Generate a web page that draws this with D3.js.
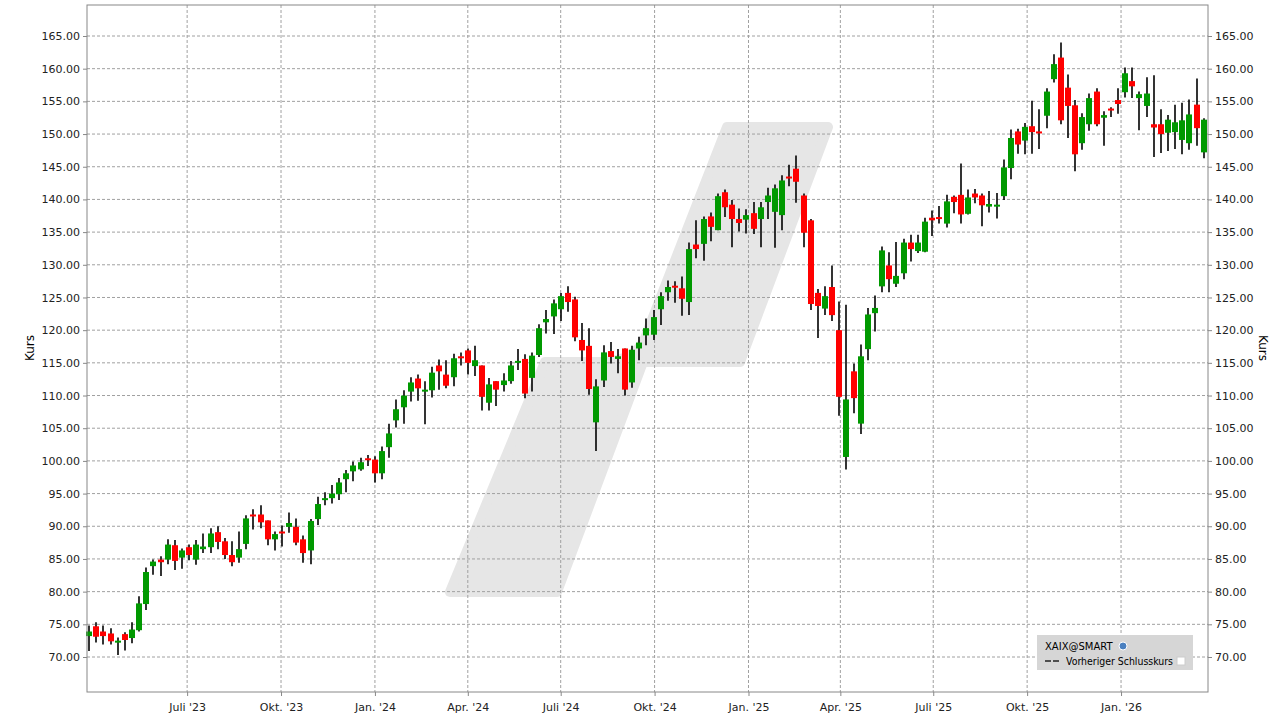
<!DOCTYPE html>
<html><head><meta charset="utf-8">
<script src="https://cdn.jsdelivr.net/npm/d3@7"></script>
<style>body{margin:0;background:#fff}svg{display:block;font-family:"DejaVu Sans",sans-serif}</style>
</head><body><svg id="c" width="1280" height="719"></svg>
<script>
const startDate = "2023-03-27";
const opens  = [73.2,74.7,73.9,73.6,72.2,73.5,72.9,74.1,78.1,83.9,84.9,84.9,87.1,85.2,86.8,84.9,86.5,86.8,89.1,87.7,85.6,85.2,87.3,91.8,91.8,90.9,88.0,89.2,89.9,89.9,88.0,86.3,91.1,94.0,94.3,94.9,97.2,98.4,98.7,100.4,100.2,98.1,102.1,106.2,108.2,110.6,112.6,110.6,110.8,114.6,113.2,112.8,116.0,116.9,114.5,114.6,108.9,112.2,111.6,112.2,115.0,115.6,112.7,116.2,121.2,122.1,123.2,125.7,124.7,118.5,117.6,105.9,112.3,116.8,115.6,117.2,112.0,117.2,119.2,119.3,123.2,125.8,126.8,126.4,124.3,133.1,133.2,137.4,135.3,141.1,139.2,137.0,136.9,137.9,137.0,139.6,138.1,137.6,143.5,144.7,140.6,136.8,125.7,123.3,126.6,120.0,100.6,113.7,105.7,117.1,122.6,126.7,129.9,127.1,128.7,133.4,132.1,132.0,137.2,137.3,136.3,140.4,140.7,137.8,140.9,140.6,138.9,138.9,140.5,144.8,150.4,149.0,151.2,150.4,152.8,158.4,161.7,157.1,154.4,148.6,151.5,156.5,152.5,153.9,155.2,156.4,158.1,155.5,154.3,151.5,151.5,150.2,150.3,149.1,148.6,154.5,147.2];
const highs  = [74.8,75.3,74.8,74.4,73.0,73.8,75.3,79.3,83.7,84.9,85.4,88.0,87.9,86.6,87.2,87.9,88.9,89.7,90.0,88.2,87.7,89.2,91.7,92.6,93.2,90.9,89.2,90.1,92.1,91.2,88.6,91.1,94.5,95.2,96.3,97.4,98.6,99.9,100.5,100.9,100.7,102.2,105.7,109.4,110.8,112.8,113.2,112.2,114.4,115.5,115.4,116.4,116.6,117.2,117.6,114.6,112.7,112.2,113.4,115.3,117.1,116.3,116.6,120.9,123.1,124.7,125.7,126.7,125.1,121.1,120.3,112.5,117.7,118.2,117.1,117.2,117.6,119.0,121.8,123.1,125.8,127.6,127.5,128.2,133.4,136.8,137.4,138.0,140.9,141.5,139.9,138.6,138.5,139.6,139.6,141.8,142.3,143.7,145.3,146.7,140.9,137.0,126.3,126.7,129.9,124.4,123.9,114.9,117.8,123.4,125.3,132.8,131.9,133.5,134.0,134.6,134.6,137.2,138.3,139.0,140.7,140.6,145.5,141.5,141.6,140.9,141.3,141.0,146.1,150.7,150.8,151.7,155.1,153.8,157.0,162.2,164.0,159.1,155.2,153.2,156.2,157.0,153.5,154.1,157.0,160.2,160.2,156.5,158.7,159.0,153.8,152.9,154.5,154.8,155.3,158.5,152.4];
const lows   = [70.9,72.2,71.9,71.9,70.3,71.0,72.1,73.9,77.2,82.6,82.4,84.2,83.3,83.5,84.8,84.1,85.9,85.9,86.5,85.0,83.9,84.4,86.5,89.5,89.7,87.1,86.3,86.9,89.0,87.1,84.4,84.2,90.2,93.2,93.5,94.0,95.2,96.9,98.5,99.2,96.7,97.2,100.5,105.1,105.7,109.1,109.2,105.6,109.7,110.9,111.1,111.4,114.6,113.2,113.0,107.7,107.7,108.4,110.6,111.8,113.9,109.6,110.6,115.9,119.5,119.4,121.4,122.8,118.3,115.3,110.1,101.5,111.3,114.9,113.4,110.0,111.2,115.4,117.7,118.5,120.8,124.5,124.2,122.2,122.3,131.0,130.6,133.6,135.3,137.3,132.7,135.1,134.8,134.7,132.7,137.0,132.6,135.3,142.0,139.5,132.7,123.1,118.8,122.3,121.4,106.9,98.7,107.3,104.1,115.4,119.8,125.8,125.8,126.6,127.8,130.5,131.8,131.9,134.4,136.3,135.7,137.9,136.3,137.7,139.4,135.9,138.0,137.1,139.9,143.1,147.0,146.9,147.0,147.7,150.9,157.9,151.5,149.4,144.3,147.6,150.5,151.2,148.2,152.6,153.1,155.6,155.5,150.6,152.6,146.5,147.1,147.4,147.7,146.9,147.6,148.2,146.3];
const closes = [73.9,73.1,73.2,72.4,72.5,72.6,74.2,78.2,83.0,84.6,84.5,87.2,84.7,86.3,85.6,87.2,86.9,88.9,87.6,85.6,84.5,86.5,91.2,91.6,90.6,88.0,88.8,88.9,90.5,87.5,85.9,90.8,93.4,94.3,95.0,96.7,98.1,99.3,99.8,100.1,98.1,101.5,104.2,107.9,110.0,112.0,111.1,110.9,113.5,113.7,111.5,115.7,115.7,115.0,115.4,109.8,111.7,110.9,112.3,114.6,115.3,110.3,116.1,120.3,121.7,124.1,125.2,124.3,118.9,116.9,111.0,111.4,116.6,115.9,116.0,110.9,117.0,118.1,120.3,122.0,125.2,126.6,126.5,124.8,132.4,132.4,137.0,135.8,140.5,138.8,137.0,136.4,137.6,135.5,138.8,140.6,141.7,142.9,143.3,142.7,134.9,124.0,123.7,125.2,122.3,109.8,109.4,109.6,116.0,122.4,123.4,132.2,127.8,128.3,133.4,132.4,133.4,136.6,136.8,137.0,139.7,139.6,137.7,140.3,140.3,139.1,139.3,139.2,144.9,149.4,148.4,151.1,150.3,150.2,156.5,160.7,152.1,154.3,146.9,152.6,155.5,151.5,152.9,153.7,154.6,159.3,157.3,156.1,156.2,151.0,150.0,152.2,151.8,152.1,153.0,150.9,152.2];
const yTicks = d3.range(70, 166, 5);
const xTickDates = ["2023-07-01","2023-10-01","2024-01-01","2024-04-01","2024-07-01","2024-10-01","2025-01-01","2025-04-01","2025-07-01","2025-10-01","2026-01-01"];
const xTickLabels = ["Juli '23","Okt. '23","Jan. '24","Apr. '24","Juli '24","Okt. '24","Jan. '25","Apr. '25","Juli '25","Okt. '25","Jan. '26"];
const legendLabels = ["XAIX@SMART","Vorheriger Schlusskurs"];

const svg = d3.select("#c");
const L=87,R=1208,T=5,B=692;
const d0 = new Date(startDate+"T00:00:00Z");
const WEEK = 7*864e5;
const dates = opens.map((_,i)=>new Date(+d0 + i*WEEK));
const x = d3.scaleUtc().domain([new Date(+d0-0.3*WEEK), new Date(+d0+156.6*WEEK)]).range([L,R]);
const y = d3.scaleLinear().domain([70,165]).range([657,36]);

const wm = svg.append("g").attr("fill","#e6e6e6").attr("stroke","#e6e6e6").attr("stroke-width",10).attr("stroke-linejoin","round");
wm.append("path").attr("d","M450,592 L557,592 L643,362 L740,362 L828,127 L727,127 L648,330 Q640,362 600,362 L545,362 Z");

const gridDash="3,2";
svg.append("g").selectAll("line").data(yTicks).join("line")
  .attr("x1",L).attr("x2",R).attr("y1",d=>y(d)).attr("y2",d=>y(d))
  .attr("stroke","#a0a0a0").attr("stroke-dasharray",gridDash);
svg.append("g").selectAll("line").data(xTickDates).join("line")
  .attr("x1",d=>x(new Date(d))).attr("x2",d=>x(new Date(d))).attr("y1",T).attr("y2",B)
  .attr("stroke","#a0a0a0").attr("stroke-dasharray",gridDash);

const cg = svg.append("g");
const cw = 5;
opens.forEach((o,i)=>{
  const c=closes[i], cx=Math.round(x(dates[i]));
  const col = c>=o ? "#009900" : "#ff0000";
  cg.append("line").attr("x1",cx).attr("x2",cx).attr("y1",y(highs[i])).attr("y2",y(lows[i])).attr("stroke","#000").attr("stroke-width",1.6);
  const top=y(Math.max(o,c)), h=Math.max(2,Math.abs(y(o)-y(c)));
  cg.append("rect").attr("x",cx-cw/2-0.5).attr("y",top).attr("width",cw+1).attr("height",h).attr("fill",col);
});

svg.append("rect").attr("x",L).attr("y",T).attr("width",R-L).attr("height",B-T).attr("fill","none").attr("stroke","#888").attr("stroke-width",1);

const fmt=d3.format(".2f");
const yl=d3.axisLeft(y).tickValues(yTicks).tickFormat(fmt).tickSize(4);
const yr=d3.axisRight(y).tickValues(yTicks).tickFormat(fmt).tickSize(4);
const gl=svg.append("g").attr("transform",`translate(${L},0)`).call(yl);
const gr=svg.append("g").attr("transform",`translate(${R},0)`).call(yr);
const xa=d3.axisBottom(x).tickValues(xTickDates.map(d=>new Date(d))).tickFormat((d,i)=>xTickLabels[i]).tickSize(4);
const gx=svg.append("g").attr("transform",`translate(0,${B})`).call(xa);
[gl,gr,gx].forEach(g=>{g.select(".domain").remove();g.selectAll("text").attr("font-size",11).attr("fill","#222").attr("font-family","DejaVu Sans, sans-serif");g.selectAll(".tick line").attr("stroke","#888");});
gx.selectAll("text").attr("dy","1.1em");

svg.append("text").attr("transform","translate(34,348) rotate(-90)").attr("text-anchor","middle").attr("font-size",12).text("Kurs");
svg.append("text").attr("transform","translate(1259,348) rotate(90)").attr("text-anchor","middle").attr("font-size",12).text("Kurs");

const lg=svg.append("g");
lg.append("rect").attr("x",1037).attr("y",635).attr("width",156).attr("height",35).attr("fill","#d6d6d6");
lg.append("text").attr("x",1045).attr("y",650).attr("font-size",10).text(legendLabels[0]);
lg.append("circle").attr("cx",1123).attr("cy",646).attr("r",4).attr("fill","#4a80c0").attr("stroke","#fff");
lg.append("line").attr("x1",1045).attr("x2",1061).attr("y1",661).attr("y2",661).attr("stroke","#222").attr("stroke-width",1.5).attr("stroke-dasharray","6,2");
lg.append("text").attr("x",1066).attr("y",665).attr("font-size",10).attr("textLength",107).attr("lengthAdjust","spacingAndGlyphs").text(legendLabels[1]);
lg.append("rect").attr("x",1177).attr("y",657).attr("width",8).attr("height",8).attr("fill","#fff").attr("stroke","#ccc");
</script></body></html>
